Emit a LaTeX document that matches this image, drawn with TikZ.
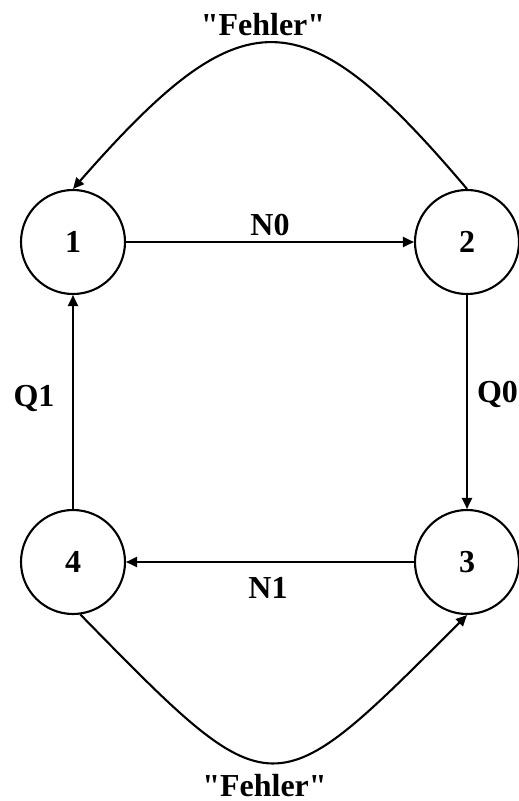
\documentclass[tikz,border=0pt]{standalone}
\usepackage{fontspec}
\setmainfont{Liberation Serif}[Ligatures=TeXOff]
\usetikzlibrary{arrows.meta}
\begin{document}
\begin{tikzpicture}[x=1pt,y=-1pt,
  state/.style={circle,draw,line width=2.1pt,minimum size=104pt,inner sep=0pt,
    font=\fontsize{32}{38}\selectfont\bfseries},
  lbl/.style={inner sep=0pt,anchor=base,font=\fontsize{32}{38}\selectfont\bfseries},
  arr/.style={line width=2.1pt,-{Triangle[length=11pt,width=10pt]}}]
\useasboundingbox (0,0) rectangle (519,801);
\node[state] (n1) at (73,242) {1};
\node[state] (n2) at (467,242) {2};
\node[state] (n3) at (467,562) {3};
\node[state] (n4) at (73,562) {4};
\draw[arr] (n1) -- (n2);
\draw[arr] (n2) -- (n3);
\draw[arr] (n3) -- (n4);
\draw[arr] (n4) -- (n1);
\draw[arr] (n2.north) .. controls +(-165,-195) and +(170,-194) .. (n1.north);
\draw[arr] (n4.-82) .. controls +(194,198) and +(-196,196) .. (n3.south);
\node[lbl] (lN0) at (270,235) {N0};
\node[lbl] (lN1) at (268,598) {N1};
\node[lbl] (lQ1) at (34,406) {Q1};
\node[lbl] (lQ0) at (497.5,402) {Q0};
\node[lbl] (lF1) at (263,35) {"Fehler"};
\node[lbl] (lF2) at (264.5,796) {"Fehler"};
\end{tikzpicture}
\end{document}
